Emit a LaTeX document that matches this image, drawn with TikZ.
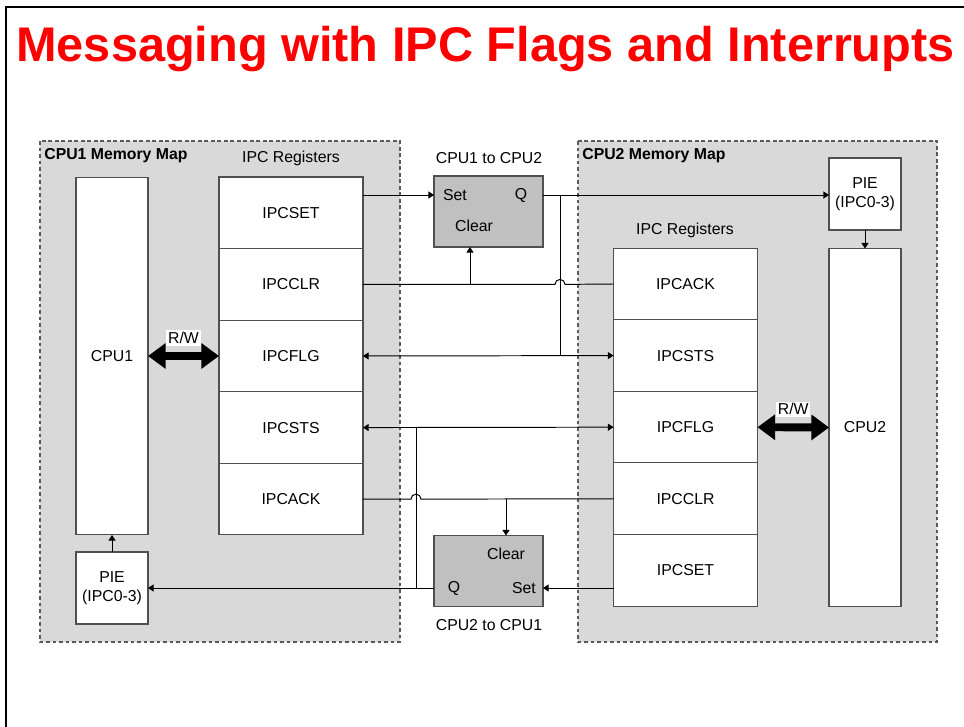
\documentclass[tikz,border=0pt]{standalone}
\usepackage{fontspec}
\setmainfont{Liberation Sans}
\usepackage{tikz}
\usetikzlibrary{arrows.meta, positioning, calc}
\definecolor{mytitle}{RGB}{255,0,0}
\definecolor{mymap}{RGB}{217,217,217}
\definecolor{myff}{RGB}{192,192,192}
\definecolor{myedge}{RGB}{80,80,80}
\definecolor{mydash}{RGB}{90,90,90}
\newcommand{\lbl}{\fontsize{9}{10.5}\selectfont}
\tikzset{
  memmap/.style={fill=mymap, draw=mydash, dash pattern=on 2.2pt off 1.5pt, line width=0.6pt},
  regbox/.style={rectangle, draw=myedge, fill=white, minimum width=2.88cm,
    minimum height=1.432cm, inner sep=0pt, outer sep=0pt, font=\lbl, line width=0.6pt},
  cpubox/.style={rectangle, draw=myedge, fill=white, minimum width=1.44cm,
    minimum height=7.16cm, inner sep=0pt, outer sep=0pt, font=\lbl, line width=0.6pt},
  piebox/.style={rectangle, draw=myedge, fill=white, minimum width=1.44cm,
    minimum height=1.44cm, inner sep=0pt, outer sep=0pt, align=center, font=\lbl, line width=0.6pt},
  flipflop/.style={rectangle, draw=myedge, fill=myff, minimum width=2.18cm,
    minimum height=1.42cm, inner sep=0pt, outer sep=0pt, line width=0.6pt},
  fftext/.style={font=\lbl, inner sep=0pt},
  caption/.style={font=\lbl, inner sep=0pt},
  maptitle/.style={font=\lbl\bfseries, inner sep=0pt, anchor=north west},
  rwlabel/.style={fill=white, font=\lbl, inner sep=1pt},
  arrow/.style={-{Triangle[length=3.2pt, width=4pt]}, line width=0.55pt},
  dblarrow/.style={{Triangle[length=3.2pt, width=4pt]}-{Triangle[length=3.2pt, width=4pt]}, line width=0.55pt},
  line/.style={line width=0.55pt},
  rwarrow/.style={{Triangle[length=10pt, width=14pt]}-{Triangle[length=10pt, width=14pt]}, line width=4.5pt}
}

\begin{document}
\begin{tikzpicture}[x=0.02cm, y=-0.02cm]
  \useasboundingbox (0,0) rectangle (964,727);
  % ── slide frame and title ──
  \draw[line width=1.1pt] (6,727) -- (6,7) -- (964,7);
  \node[anchor=base west, inner sep=0pt, text=mytitle,
    font=\fontsize{27.7}{30}\selectfont\bfseries] (title) at (16,61) {Messaging with IPC Flags and Interrupts};

  % ── memory maps ──
  \draw[memmap] (40,141) rectangle (400,642);
  \draw[memmap] (578,141) rectangle (937,642);
  \node[maptitle] (map1) at (44,148) {CPU1 Memory Map};
  \node[maptitle] (map2) at (582,148) {CPU2 Memory Map};

  % ── CPU1 side ──
  \node[cpubox] (cpu1) at (112,356) {CPU1};
  \node[piebox] (lpie) at (112,588) {PIE\\(IPC0-3)};
  \node[caption] (lregs) at (291,158) {IPC Registers};
  \node[regbox] (lset) at (291,212.8) {IPCSET};
  \node[regbox, below=0pt of lset] (lclr) {IPCCLR};
  \node[regbox, below=0pt of lclr] (lflg) {IPCFLG};
  \node[regbox, below=0pt of lflg] (lsts) {IPCSTS};
  \node[regbox, below=0pt of lsts] (lack) {IPCACK};

  % ── CPU2 side ──
  \node[piebox] (rpie) at (865,194) {PIE\\(IPC0-3)};
  \node[cpubox] (cpu2) at (865,427.5) {CPU2};
  \node[caption] (rregs) at (685,230) {IPC Registers};
  \node[regbox] (rack) at (685.5,284) {IPCACK};
  \node[regbox, below=0pt of rack] (rsts) {IPCSTS};
  \node[regbox, below=0pt of rsts] (rflg) {IPCFLG};
  \node[regbox, below=0pt of rflg] (rclr) {IPCCLR};
  \node[regbox, below=0pt of rclr] (rset) {IPCSET};

  % ── flag latches ──
  \node[caption] (cap1) at (489,158) {CPU1 to CPU2};
  \node[flipflop] (ff1) at (488.5,211.5) {};
  \node[fftext] (fs1) at (455,195) {Set};
  \node[fftext] (fq1) at (521,195) {Q};
  \node[fftext] (fc1) at (474,226) {Clear};
  \node[caption] (cap2) at (489,625) {CPU2 to CPU1};
  \node[flipflop] (ff2) at (488.5,571) {};
  \node[fftext] (fc2) at (506,554) {Clear};
  \node[fftext] (fq2) at (454,588) {Q};
  \node[fftext] (fs2) at (524,588) {Set};

  % ── R/W paths ──
  \draw[rwarrow] (cpu1.east) -- (lflg.west);
  \node[rwlabel] (rw1) at ($(cpu1.east)!0.5!(lflg.west)+(0,-18)$) {R/W};
  \draw[rwarrow] (rflg.west -| rflg.east) -- (cpu2.west);
  \node[rwlabel] (rw2) at ($(rflg.east)!0.5!(cpu2.west)+(0,-18)$) {R/W};

  % ── interrupt lines ──
  \draw[arrow] (lpie.north) -- (cpu1.south);
  \draw[arrow] (rpie.south) -- (cpu2.north);

  % ── CPU1 to CPU2 flag ──
  \coordinate (tapA) at (560,195);
  \coordinate (clrA) at (470,284);
  \draw[arrow] (lset.east |- fs1) -- (ff1.west |- fs1);
  \draw[arrow] (ff1.east |- fq1) -- (rpie.west |- fq1);
  \draw[line] (tapA) -- (tapA |- lflg.east);
  \draw[dblarrow] (lflg.east) -- (rsts.west);
  \draw[line] (lclr.east) -- ($(tapA |- lclr.east)+(-5,0)$) arc (180:360:5) -- (rack.west);
  \draw[arrow] (clrA) -- (clrA |- ff1.south);

  % ── CPU2 to CPU1 flag ──
  \coordinate (tapB) at (416,427.5);
  \coordinate (clrB) at (506,499);
  \draw[arrow] (rset.west |- fs2) -- (ff2.east |- fs2);
  \draw[arrow] (ff2.west |- lpie.east) -- (lpie.east);
  \draw[line] (tapB) -- (tapB |- lpie.east);
  \draw[dblarrow] (lsts.east) -- (rflg.west);
  \draw[line] (lack.east) -- ($(tapB |- lack.east)+(-5,0)$) arc (180:360:5) -- (rclr.west);
  \draw[arrow] (clrB) -- (clrB |- ff2.north);
\end{tikzpicture}
\end{document}
